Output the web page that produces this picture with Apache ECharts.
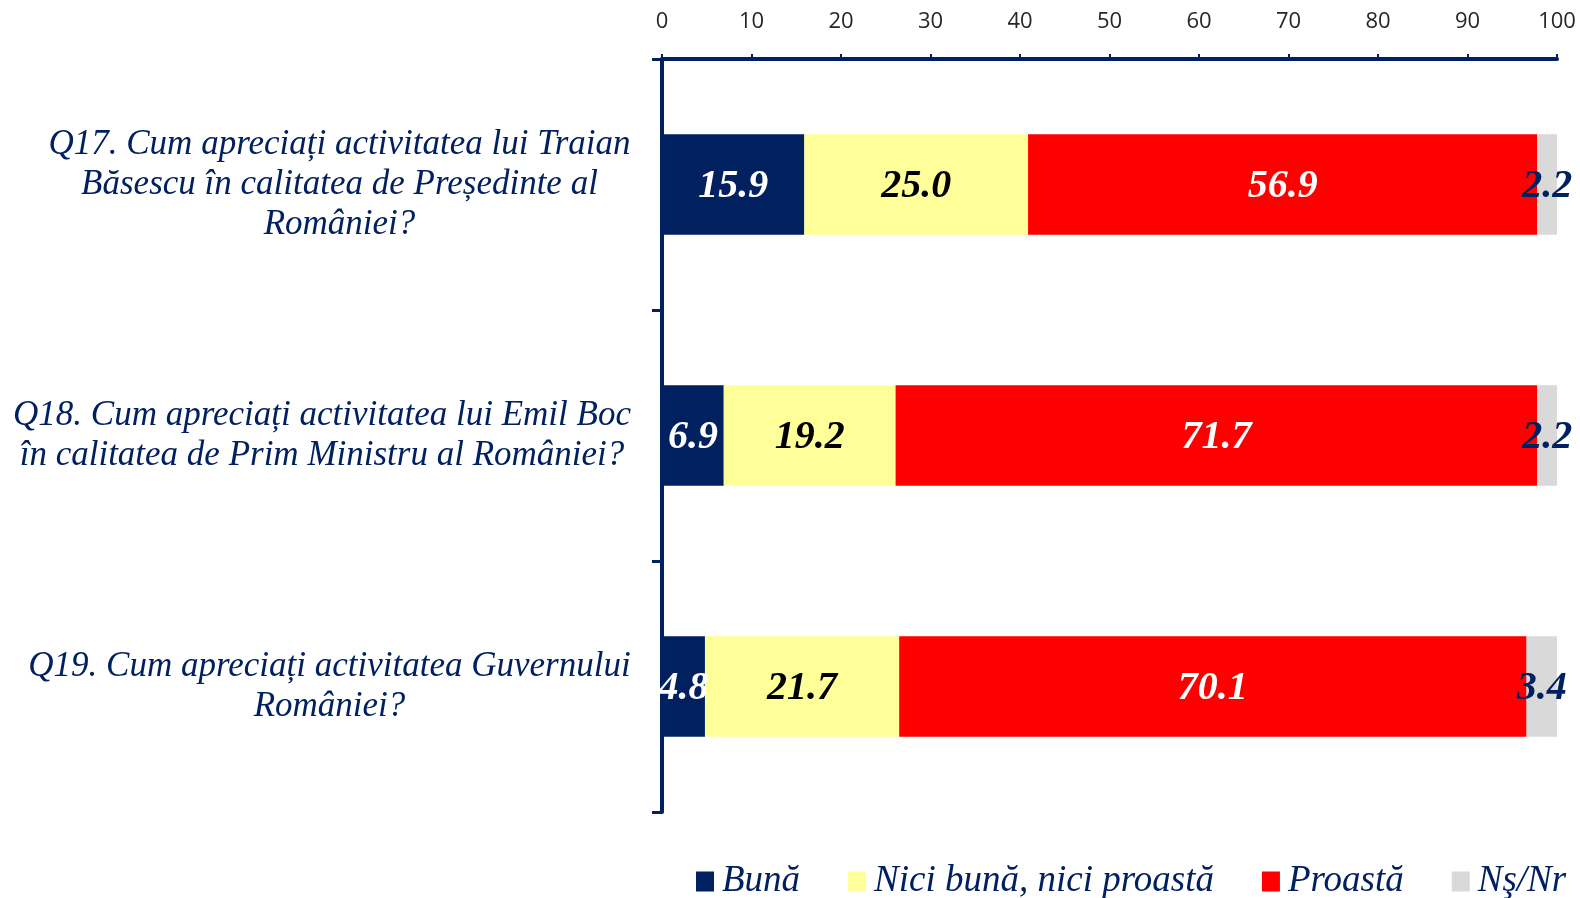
<!DOCTYPE html>
<html><head><meta charset="utf-8">
<script src="https://cdn.jsdelivr.net/npm/echarts@6/dist/echarts.min.js"></script>
<style>html,body{margin:0;padding:0;background:#fff}#c{width:1580px;height:898px}</style>
</head><body><div id="c"></div>
<script>
const categories = [
  "Q17. Cum apreciați activitatea lui Traian\nBăsescu în calitatea de Președinte al\nRomâniei?",
  "Q18. Cum apreciați activitatea lui Emil Boc\nîn calitatea de Prim Ministru al României?",
  "Q19. Cum apreciați activitatea Guvernului\nRomâniei?"
];
const seriesNames = ["Bună", "Nici bună, nici proastă", "Proastă", "Nş/Nr"];
const buna = [15.9, 6.9, 4.8];
const nici = [25.0, 19.2, 21.7];
const proasta = [56.9, 71.7, 70.1];
const nsnr = [2.2, 2.2, 3.4];
const xTicks = [0, 100, 10];

const navy = '#002060';
const colors = [navy, '#FFFF99', '#FF0000', '#D9D9D9'];
const labelColors = ['#FFFFFF', '#000000', '#FFFFFF', navy];
const values = [buna, nici, proasta, nsnr];

const catFont = 'italic 35px "Liberation Serif"';
const ctx = document.createElement('canvas').getContext('2d');
ctx.font = catFont;
const rich = {};
categories.forEach(function (c, i) {
  let w = 0;
  c.split('\n').forEach(function (l) { w = Math.max(w, ctx.measureText(l).width); });
  rich['a' + i] = {width: Math.ceil(w) + 2, align: 'center', fontSize: 35, lineHeight: 40,
    fontStyle: 'italic', fontFamily: 'Liberation Serif', color: navy};
});

const chart = echarts.init(document.getElementById('c'));
chart.setOption({
  animation: false,
  grid: {left: 662, right: 23, top: 59, bottom: 86, containLabel: false},
  xAxis: {
    type: 'value', position: 'top', min: xTicks[0], max: xTicks[1], interval: xTicks[2],
    axisLine: {show: true, lineStyle: {color: navy, width: 4}},
    axisTick: {show: true, length: 5, lineStyle: {color: navy, width: 2}},
    splitLine: {show: false},
    axisLabel: {margin: 26, fontSize: 22, color: '#262626', fontFamily: 'Open Sans'}
  },
  yAxis: {
    type: 'category', inverse: true, data: categories,
    axisLine: {show: true, lineStyle: {color: navy, width: 4}},
    axisTick: {show: true, length: 10, lineStyle: {color: navy, width: 3}},
    axisLabel: {
      margin: 30,
      formatter: function (v, idx) {
        return v.split('\n').map(function (l) { return '{a' + idx + '|' + l + '}'; }).join('\n');
      },
      rich: rich
    }
  },
  legend: {
    top: 858, left: 691, itemWidth: 18, itemHeight: 20, itemGap: 48,
    icon: 'rect',
    textStyle: {fontSize: 37, fontStyle: 'italic', fontFamily: 'Liberation Serif', color: navy, padding: [0,0,0,3]},
    data: seriesNames
  },
  series: values.map(function (vals, i) {
    return {
      name: seriesNames[i], type: 'bar', stack: 'all', barWidth: '40%',
      data: vals,
      itemStyle: {color: colors[i]},
      label: {
        show: true, position: 'inside', color: labelColors[i],
        fontSize: 40, fontWeight: 'bold', fontStyle: 'italic', fontFamily: 'Liberation Serif',
        offset: [0, 2],
        formatter: function (p) { return p.value.toFixed(1); }
      }
    };
  })
});
</script></body></html>
